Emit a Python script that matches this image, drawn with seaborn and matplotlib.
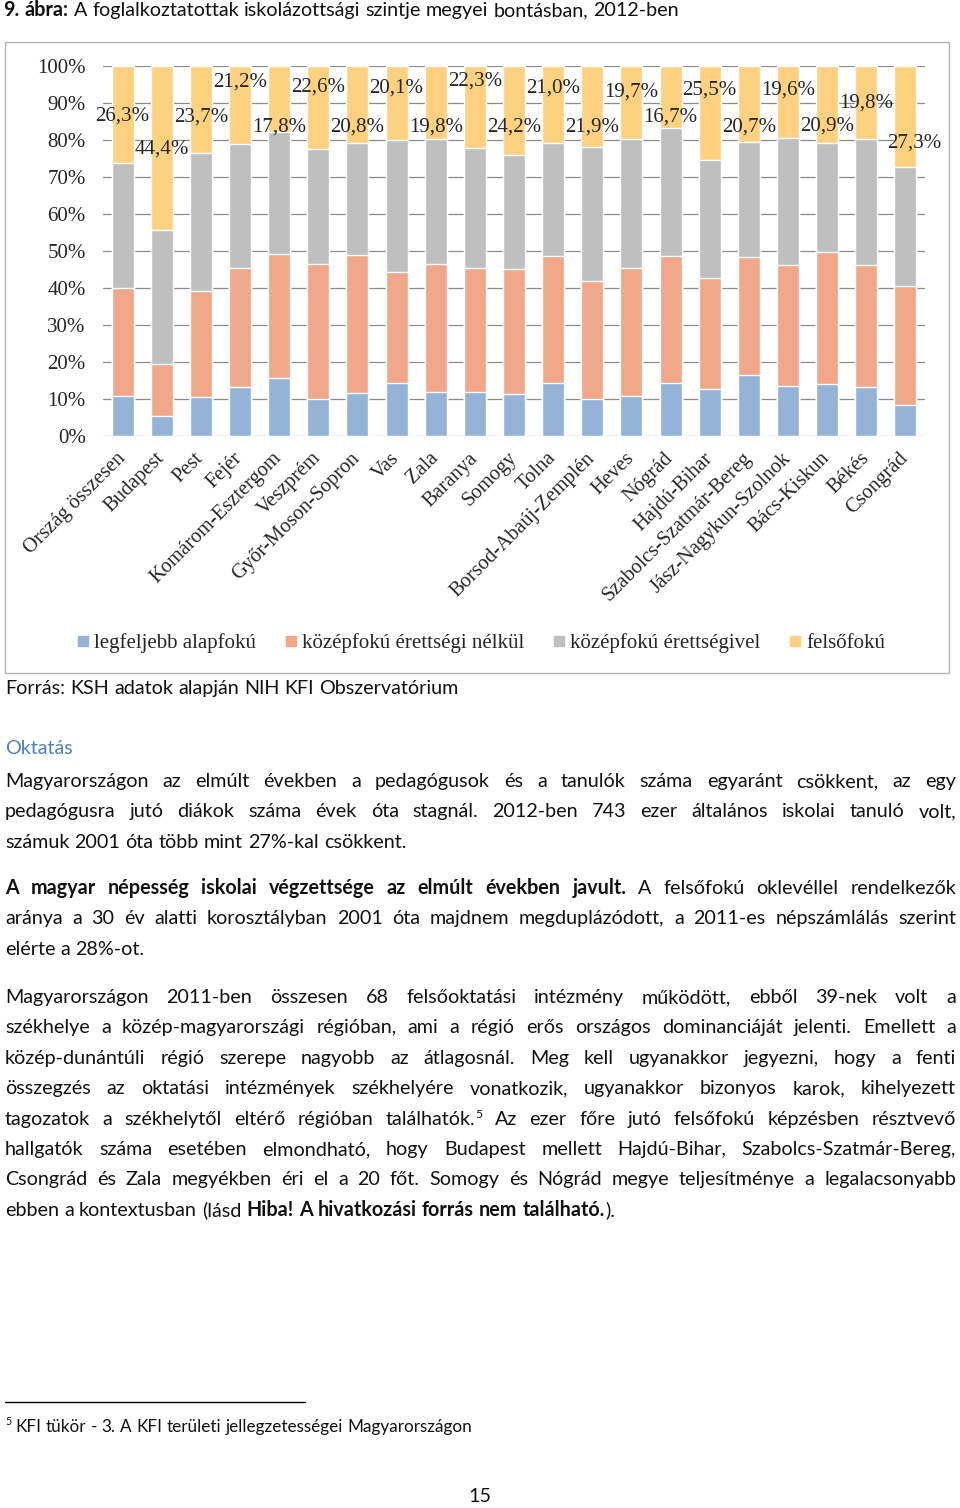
import numpy as np
import seaborn as sns
import matplotlib.pyplot as plt
from matplotlib.patches import Rectangle
from matplotlib.lines import Line2D

# chart data (percent of employed, 2012)
counties = ["Ország összesen", "Budapest", "Pest", "Fejér", "Komárom-Esztergom",
            "Veszprém", "Győr-Moson-Sopron", "Vas", "Zala", "Baranya", "Somogy",
            "Tolna", "Borsod-Abaúj-Zemplén", "Heves", "Nógrád", "Hajdú-Bihar",
            "Szabolcs-Szatmár-Bereg", "Jász-Nagykun-Szolnok", "Bács-Kiskun",
            "Békés", "Csongrád"]
legfeljebb_alapfoku = [10.8, 5.4, 10.4, 13.1, 15.7, 9.9, 11.5, 14.4, 11.9, 11.9, 11.3,
                       14.2, 9.9, 10.9, 14.2, 12.6, 16.5, 13.5, 14.0, 13.1, 8.4]
erettsegi_nelkul = [29.1, 14.0, 28.8, 32.4, 33.5, 36.5, 37.4, 29.8, 34.5, 33.4, 33.7,
                    34.5, 32.0, 34.4, 34.4, 30.2, 31.8, 32.7, 35.6, 33.1, 32.1]
erettsegivel = [33.8, 36.2, 37.1, 33.3, 33.0, 31.0, 30.3, 35.7, 33.8, 32.4, 30.8,
                30.3, 36.2, 35.0, 34.7, 31.7, 31.0, 34.2, 29.5, 34.0, 32.2]
felsofoku = [26.3, 44.4, 23.7, 21.2, 17.8, 22.6, 20.8, 20.1, 19.8, 22.3, 24.2,
             21.0, 21.9, 19.7, 16.7, 25.5, 20.7, 19.6, 20.9, 19.8, 27.3]
series_names = ["legfeljebb alapfokú", "középfokú érettségi nélkül",
                "középfokú érettségivel", "felsőfokú"]

# where the "felsőfokú" labels sit (y in %, x shift in bar slots)
label_y = [86.4, 77.4, 86.1, 95.7, 83.4, 94.3, 83.4, 94.0, 83.5, 95.9, 83.4,
           94.1, 83.4, 93.0, 86.1, 93.4, 83.4, 93.4, 83.7, 90.0, 79.0]
label_dx = [0] * 20 + [0.23]

colors = ["#95b3d7", "#f1a78a", "#bfbfbf", "#fdd17f"]
SERIF = "Liberation Serif"
BODY = "Lato"

sns.set_style("white")
plt.rcParams["font.family"] = ["DejaVu Sans"]

fig = plt.figure(figsize=(9.6, 15.08), dpi=100)

# page layer in pixel coordinates
page = fig.add_axes([0, 0, 1, 1])
page.set_xlim(0, 960)
page.set_ylim(1508, 0)
page.axis("off")
page.patch.set_alpha(0)

page.add_patch(Rectangle((5, 42), 944, 631, fill=False, ec="#b3b3b3", lw=1))

# chart
ax = fig.add_axes([103 / 960, 1 - 436 / 1508, 822 / 960, 370.3 / 1508])
stack = np.cumsum([legfeljebb_alapfoku, erettsegi_nelkul, erettsegivel, felsofoku], axis=0)
for i in reversed(range(4)):
    sns.barplot(x=counties, y=stack[i], order=counties, color=colors[i], width=0.56,
                saturation=1, errorbar=None, ax=ax, zorder=2)

ax.set_ylim(0, 100)
ax.set_yticks(range(0, 101, 10))
ax.set_yticklabels([f"{t}%" for t in range(0, 101, 10)], fontfamily=SERIF, fontsize=15)
ax.set_xticks(range(len(counties)))
ax.set_xticklabels(counties, rotation=45, ha="right", va="center", rotation_mode="anchor",
                   fontfamily=SERIF, fontsize=14.8)
ax.tick_params(axis="y", length=0, pad=12.5)
ax.tick_params(axis="x", length=0, pad=14)
ax.yaxis.grid(True, color="#8c8c8c", lw=0.9)
ax.set_axisbelow(True)
for s in ax.spines.values():
    s.set_visible(False)
ax.set_xlabel("")
ax.set_ylabel("")

for i, v in enumerate(felsofoku):
    ax.text(i + label_dx[i], label_y[i], f"{v:.1f}".replace(".", ",") + "%",
            ha="center", va="center", fontfamily=SERIF, fontsize=15)

handles = [Line2D([], [], marker="s", ls="", markersize=7, color=c) for c in colors]
fig.legend(handles, series_names, loc="center", bbox_to_anchor=(0.5, 1 - 643 / 1508),
           ncol=4, frameon=False, prop={"family": SERIF, "size": 15},
           handletextpad=0.15, columnspacing=1.25, handlelength=0.8)

# text of the page
renderer = fig.canvas.get_renderer()
SIZE = 14.2


def put_line(y, segs, justify=True, x0=5, x1=956, size=SIZE, color="#111111"):
    words = []
    for text, st in segs:
        for k, p in enumerate(text.split(" ")):
            if k > 0 or not words:
                words.append([])
            if p:
                words[-1].append((p, st))
    words = [w for w in words if w]
    placed = []
    for w in words:
        items = []
        for p, st in w:
            if st == "sup":
                t = page.text(0, y + 6 - 7, p, va="baseline", ha="left",
                              fontfamily=BODY, fontsize=size * 0.62, color=color)
            else:
                t = page.text(0, y + 6, p, va="baseline", ha="left", fontfamily=BODY,
                              fontsize=size, color=color,
                              fontweight="bold" if st == "b" else "normal")
            items.append((t, t.get_window_extent(renderer).width))
        placed.append(items)
    widths = [sum(wd for _, wd in items) for items in placed]
    if justify and len(placed) > 1:
        gap = (x1 - x0 - sum(widths)) / (len(placed) - 1)
    else:
        gap = 0.26 * size * 100 / 72
    x = x0
    for items, wsum in zip(placed, widths):
        xx = x
        for t, wd in items:
            t.set_x(xx)
            xx += wd
        x += wsum + gap


put_line(10, [("9. ábra:", "b"),
              (" A foglalkoztatottak iskolázottsági szintje megyei bontásban, 2012-ben", "n")],
         justify=False, x0=3)
put_line(688, [("Forrás: KSH adatok alapján NIH KFI Obszervatórium", "n")], justify=False)
put_line(748, [("Oktatás", "n")], justify=False, color="#4f81bd")

paragraphs = [
    (781, [
        [("Magyarországon az elmúlt években a pedagógusok és a tanulók száma egyaránt csökkent, az egy", "n")],
        [("pedagógusra jutó diákok száma évek óta stagnál. 2012-ben 743 ezer általános iskolai tanuló volt,", "n")],
        [("számuk 2001 óta több mint 27%-kal csökkent.", "n")],
    ]),
    (888, [
        [("A magyar népesség iskolai végzettsége az elmúlt években javult.", "b"),
         (" A felsőfokú oklevéllel rendelkezők", "n")],
        [("aránya a 30 év alatti korosztályban 2001 óta majdnem megduplázódott, a 2011-es népszámlálás szerint", "n")],
        [("elérte a 28%-ot.", "n")],
    ]),
    (997, [
        [("Magyarországon 2011-ben összesen 68 felsőoktatási intézmény működött, ebből 39-nek volt a", "n")],
        [("székhelye a közép-magyarországi régióban, ami a régió erős országos dominanciáját jelenti. Emellett a", "n")],
        [("közép-dunántúli régió szerepe nagyobb az átlagosnál. Meg kell ugyanakkor jegyezni, hogy a fenti", "n")],
        [("összegzés az oktatási intézmények székhelyére vonatkozik, ugyanakkor bizonyos karok, kihelyezett", "n")],
        [("tagozatok a székhelytől eltérő régióban találhatók.", "n"), ("5", "sup"),
         (" Az ezer főre jutó felsőfokú képzésben résztvevő", "n")],
        [("hallgatók száma esetében elmondható, hogy Budapest mellett Hajdú-Bihar, Szabolcs-Szatmár-Bereg,", "n")],
        [("Csongrád és Zala megyékben éri el a 20 főt. Somogy és Nógrád megye teljesítménye a legalacsonyabb", "n")],
        [("ebben a kontextusban (lásd ", "n"), ("Hiba! A hivatkozási forrás nem található.", "b"),
         (").", "n")],
    ]),
]
for y0, lines in paragraphs:
    for k, segs in enumerate(lines):
        put_line(y0 + k * 30.4, segs, justify=(k < len(lines) - 1))

page.plot([5, 305], [1402, 1402], color="black", lw=1)
put_line(1426, [("5", "sup"), (" KFI tükör - 3. A KFI területi jellegzetességei Magyarországon", "n")],
         justify=False, size=12.3)
page.text(480, 1497, "15", ha="center", va="center", fontfamily=BODY, fontsize=SIZE, color="#111111")

fig.savefig("out.png", dpi=100)
